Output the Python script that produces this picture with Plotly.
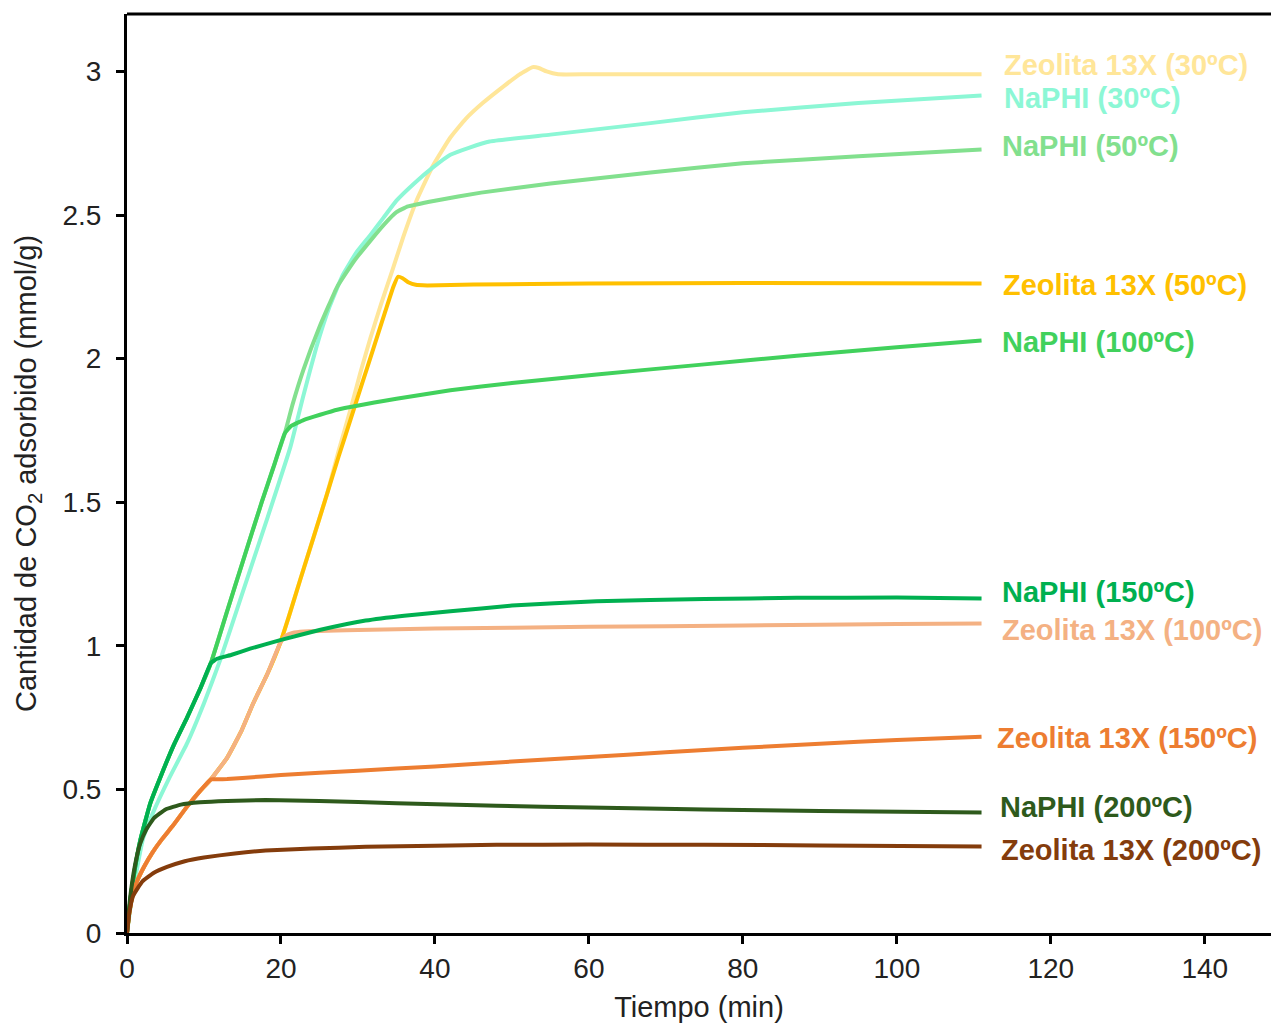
import plotly.graph_objects as go

# ---------------- data ----------------
series_names = [
    "Zeolita 13X (30ºC)", "NaPHI (30ºC)", "NaPHI (50ºC)", "Zeolita 13X (50ºC)",
    "NaPHI (100ºC)", "Zeolita 13X (100ºC)", "NaPHI (150ºC)", "Zeolita 13X (150ºC)",
    "NaPHI (200ºC)", "Zeolita 13X (200ºC)",
]

z30_x = [0, 0.3, 0.7, 1.3, 2.2, 3.3, 4.5, 6, 7.8, 9.5, 10.9, 13, 14.8, 16.4, 18.2, 19.9, 21, 22.5, 24.2, 26,
         27.5, 29, 30.3, 31.6, 33, 34.5, 35.9, 37.6, 39.7, 42, 44, 46.2, 49, 51, 52.7, 53.5, 54.5, 56, 60, 80, 111]
z30_y = [0, 0.07, 0.13, 0.18, 0.23, 0.28, 0.325, 0.375, 0.44, 0.495, 0.535, 0.61, 0.7, 0.8, 0.9, 1.01, 1.1, 1.23, 1.375, 1.53,
         1.68, 1.82, 1.95, 2.07, 2.19, 2.31, 2.425, 2.55, 2.67, 2.77, 2.835, 2.89, 2.95, 2.99, 3.015, 3.012, 3.0, 2.99, 2.99, 2.99, 2.99]

n30_x = [0, 0.5, 1, 2.1, 3.4, 5.5, 7.8, 10, 12.1, 14.7, 18.3, 21.2, 22.9, 24.6, 26.3, 28, 29.8, 31.6, 33.3, 35,
         37.3, 39.7, 42, 44.5, 47.1, 55, 68, 80, 95, 111]
n30_y = [0, 0.1, 0.18, 0.33, 0.42, 0.54, 0.66, 0.8, 0.95, 1.16, 1.45, 1.69, 1.87, 2.04, 2.18, 2.29, 2.37, 2.43, 2.49, 2.55,
         2.61, 2.665, 2.71, 2.735, 2.756, 2.78, 2.82, 2.858, 2.89, 2.916]

n50_x = [0, 0.5, 1, 1.7, 3, 4.3, 6, 7.8, 9.5, 10.9, 13, 15, 17.5, 19, 20.5, 21.5, 22.9, 25, 27.3, 29.5, 31.6, 33.5,
         35, 36.5, 40, 46, 55, 68, 80, 95, 111]
n50_y = [0, 0.13, 0.22, 0.32, 0.45, 0.54, 0.65, 0.75, 0.85, 0.94, 1.12, 1.29, 1.5, 1.62, 1.74, 1.84, 1.96, 2.11, 2.25, 2.34, 2.41, 2.47,
         2.51, 2.53, 2.55, 2.578, 2.61, 2.648, 2.68, 2.705, 2.728]

z50_x = [0, 0.3, 0.7, 1.3, 2.2, 3.3, 4.5, 6, 7.8, 9.5, 10.9, 13, 14.8, 16.4, 18.2, 19.9, 21, 22.5, 24.2, 26, 27.5,
         29, 30.5, 32, 33.5, 34.6, 35.2, 35.8, 36.6, 37.5, 39, 45, 60, 80, 111]
z50_y = [0, 0.07, 0.13, 0.18, 0.23, 0.28, 0.325, 0.375, 0.44, 0.495, 0.535, 0.61, 0.7, 0.8, 0.9, 1.01, 1.1, 1.23, 1.375, 1.53, 1.66,
         1.785, 1.91, 2.035, 2.16, 2.25, 2.285, 2.28, 2.265, 2.257, 2.255, 2.258, 2.262, 2.263, 2.262]

n100_x = [0, 0.5, 1, 1.7, 3, 4.3, 6, 7.8, 9.5, 10.9, 13, 15, 17.5, 19, 20.5, 21.3, 23, 27.3, 35, 42, 50, 61, 75, 87, 100, 111]
n100_y = [0, 0.13, 0.22, 0.32, 0.45, 0.54, 0.65, 0.75, 0.85, 0.94, 1.12, 1.29, 1.5, 1.62, 1.74, 1.765, 1.787, 1.822, 1.86, 1.89,
          1.915, 1.945, 1.98, 2.01, 2.04, 2.063]

z100_x = [0, 0.3, 0.7, 1.3, 2.2, 3.3, 4.5, 6, 7.8, 9.5, 10.9, 13, 14.8, 16.4, 18.2, 19.9, 20.6, 21.5, 23, 30, 40, 60, 80, 100, 111]
z100_y = [0, 0.07, 0.13, 0.18, 0.23, 0.28, 0.325, 0.375, 0.44, 0.495, 0.535, 0.61, 0.7, 0.8, 0.9, 1.01, 1.035, 1.045, 1.05,
          1.055, 1.06, 1.066, 1.071, 1.076, 1.078]

n150_x = [0, 0.5, 1, 1.7, 3, 4.3, 6, 7.8, 9.5, 10.9, 11.7, 13.5, 16, 19.9, 25, 31, 36, 42, 50, 61, 75, 87, 100, 111]
n150_y = [0, 0.13, 0.22, 0.32, 0.45, 0.54, 0.65, 0.75, 0.85, 0.94, 0.955, 0.968, 0.99, 1.02, 1.055, 1.088, 1.105, 1.12, 1.14,
          1.155, 1.163, 1.167, 1.168, 1.165]

z150_x = [0, 0.3, 0.7, 1.3, 2.2, 3.3, 4.5, 6, 7.8, 9.5, 10.9, 11.8, 13, 15, 20, 30, 40, 50, 60, 70, 80, 90, 100, 111]
z150_y = [0, 0.07, 0.13, 0.18, 0.23, 0.28, 0.325, 0.375, 0.44, 0.495, 0.535, 0.535, 0.536, 0.54, 0.55, 0.565, 0.58, 0.597,
          0.613, 0.629, 0.645, 0.659, 0.672, 0.683]

n200_x = [0, 0.4, 1, 1.7, 2.5, 3.5, 5, 7, 9.5, 13, 18, 25, 35, 48, 60, 75, 90, 111]
n200_y = [0, 0.12, 0.23, 0.31, 0.36, 0.4, 0.43, 0.447, 0.455, 0.46, 0.463, 0.46, 0.452, 0.443, 0.437, 0.43, 0.425, 0.42]

z200_x = [0, 0.3, 0.8, 2, 3.5, 5.2, 7.5, 10, 14, 18, 24, 31, 40, 48, 60, 75, 90, 111]
z200_y = [0, 0.07, 0.13, 0.18, 0.21, 0.23, 0.25, 0.263, 0.277, 0.287, 0.294, 0.3, 0.304, 0.307, 0.308, 0.307, 0.305, 0.301]

series_x = [z30_x, n30_x, n50_x, z50_x, n100_x, z100_x, n150_x, z150_x, n200_x, z200_x]
series_y = [z30_y, n30_y, n50_y, z50_y, n100_y, z100_y, n150_y, z150_y, n200_y, z200_y]

x_ticks = [0, 20, 40, 60, 80, 100, 120, 140]
y_ticks = [0, 0.5, 1, 1.5, 2, 2.5, 3]

# ---------------- styles ----------------
colors = ["#FFE699", "#8CF7D5", "#82E08E", "#FFC000", "#41D15C", "#F4B183",
          "#00B050", "#ED7D31", "#2E5A1C", "#843C0C"]
label_x = [113.6, 113.6, 113.4, 113.5, 113.4, 113.4, 113.4, 112.7, 113.2, 113.3]
label_y = [3.024, 2.906, 2.739, 2.258, 2.059, 1.056, 1.188, 0.679, 0.439, 0.289]

FONT = "Liberation Sans, Arial, sans-serif"

fig = go.Figure()
for name, xs, ys, c in zip(series_names, series_x, series_y, colors):
    fig.add_trace(go.Scatter(x=xs, y=ys, mode="lines", name=name,
                             line=dict(color=c, width=4, shape="spline", smoothing=0.35),
                             showlegend=False, hoverinfo="skip"))

for name, lx, ly, c in zip(series_names, label_x, label_y, colors):
    fig.add_annotation(x=lx, y=ly, xref="x", yref="y", text="<b>" + name + "</b>",
                       showarrow=False, xanchor="left", yanchor="middle",
                       font=dict(family=FONT, size=29, color=c))

fig.add_shape(type="line", xref="paper", yref="paper", x0=0, x1=1, y0=1, y1=1,
              line=dict(color="black", width=3))

fig.update_layout(
    width=1271, height=1023,
    margin=dict(l=127, r=0, t=14, b=90),
    plot_bgcolor="white", paper_bgcolor="white",
    font=dict(family=FONT, color="black"),
    xaxis=dict(range=[0, 148.6], tickvals=x_ticks, showgrid=False, zeroline=False,
               showline=True, linecolor="black", linewidth=3,
               ticks="outside", ticklen=8, tickwidth=3, tickcolor="black",
               tickfont=dict(size=28, family=FONT, color="#222"),
               title=dict(text="Tiempo (min)", font=dict(size=29, family=FONT, color="#222"), standoff=15)),
    yaxis=dict(range=[0, 3.2], tickvals=y_ticks, showgrid=False, zeroline=False,
               showline=True, linecolor="black", linewidth=3,
               ticks="outside", ticklen=8, tickwidth=3, tickcolor="black",
               ticklabelstandoff=9,
               tickfont=dict(size=28, family=FONT, color="#222"),
               title=dict(text="Cantidad de CO<sub>2</sub> adsorbido (mmol/g)",
                          font=dict(size=29, family=FONT, color="#222"), standoff=18)),
)

fig.write_html("out.html")
